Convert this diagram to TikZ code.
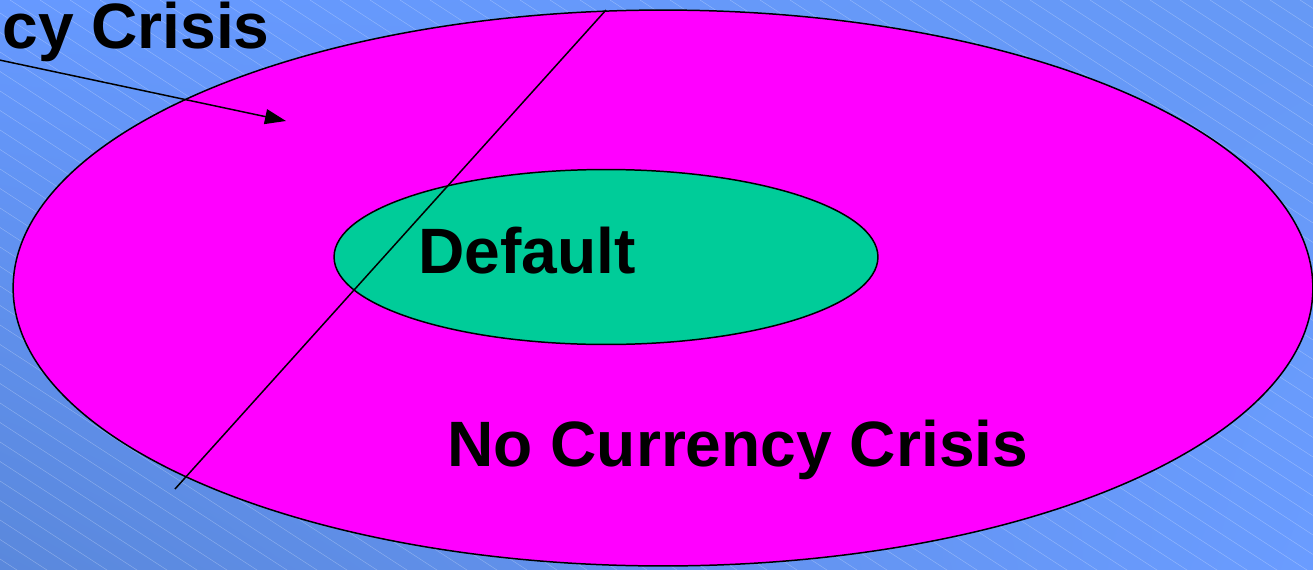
\documentclass[tikz,border=0pt]{standalone}
\usepackage{fontspec}
\setmainfont{Liberation Sans}
\usetikzlibrary{shapes.geometric,arrows.meta,shadings}
\definecolor{bgUL}{HTML}{6699FF}
\definecolor{bgUR}{HTML}{6699F5}
\definecolor{bgLL}{HTML}{5A88DC}
\definecolor{bgLR}{HTML}{6A9CFF}
\definecolor{outer}{HTML}{FF00FF}
\definecolor{inner}{HTML}{00CC99}
\tikzset{
  stripe/.style={white, opacity=0.3, line width=0.25pt},
  blob/.style={ellipse, draw=black, line width=0.85pt, inner sep=0pt},
  lbl/.style={inner sep=0pt, font=\fontsize{36.5}{40}\selectfont\bfseries},
  conn/.style={black, line width=0.85pt}
}
\begin{document}
\begin{tikzpicture}[x=0.02cm,y=-0.02cm]
\useasboundingbox (0,0) rectangle (1313,569);
\clip (0,0) rectangle (1313,569);
\shade[upper left=bgUL, upper right=bgUR, lower left=bgLL, lower right=bgLR] (0,0) rectangle (1313,569);
\foreach \i in {-1100,-1070,...,1313} \draw[stripe] (\i,0) -- ++(1000,650);
\node[blob, fill=outer, minimum width=26cm, minimum height=11.12cm] (big) at (663,288) {};
\node[blob, fill=inner, minimum width=10.88cm, minimum height=3.5cm] (small) at (606,257) {};
\coordinate (ltop) at (606,10);
\coordinate (lbot) at (175,489);
\draw[conn] (ltop) -- (lbot);
\node[lbl, anchor=base west] (deflt) at (418,273) {Default};
\node[lbl, anchor=base west] (nocc) at (447,466) {No Currency Crisis};
\node[lbl, anchor=base west] (cc) at (2,48) {cy Crisis};
\coordinate (astart) at (-10,58);
\coordinate (aend) at (286,121);
\draw[conn, -{Triangle[length=0.42cm,width=0.3cm]}] (astart) -- (aend);
\end{tikzpicture}
\end{document}
